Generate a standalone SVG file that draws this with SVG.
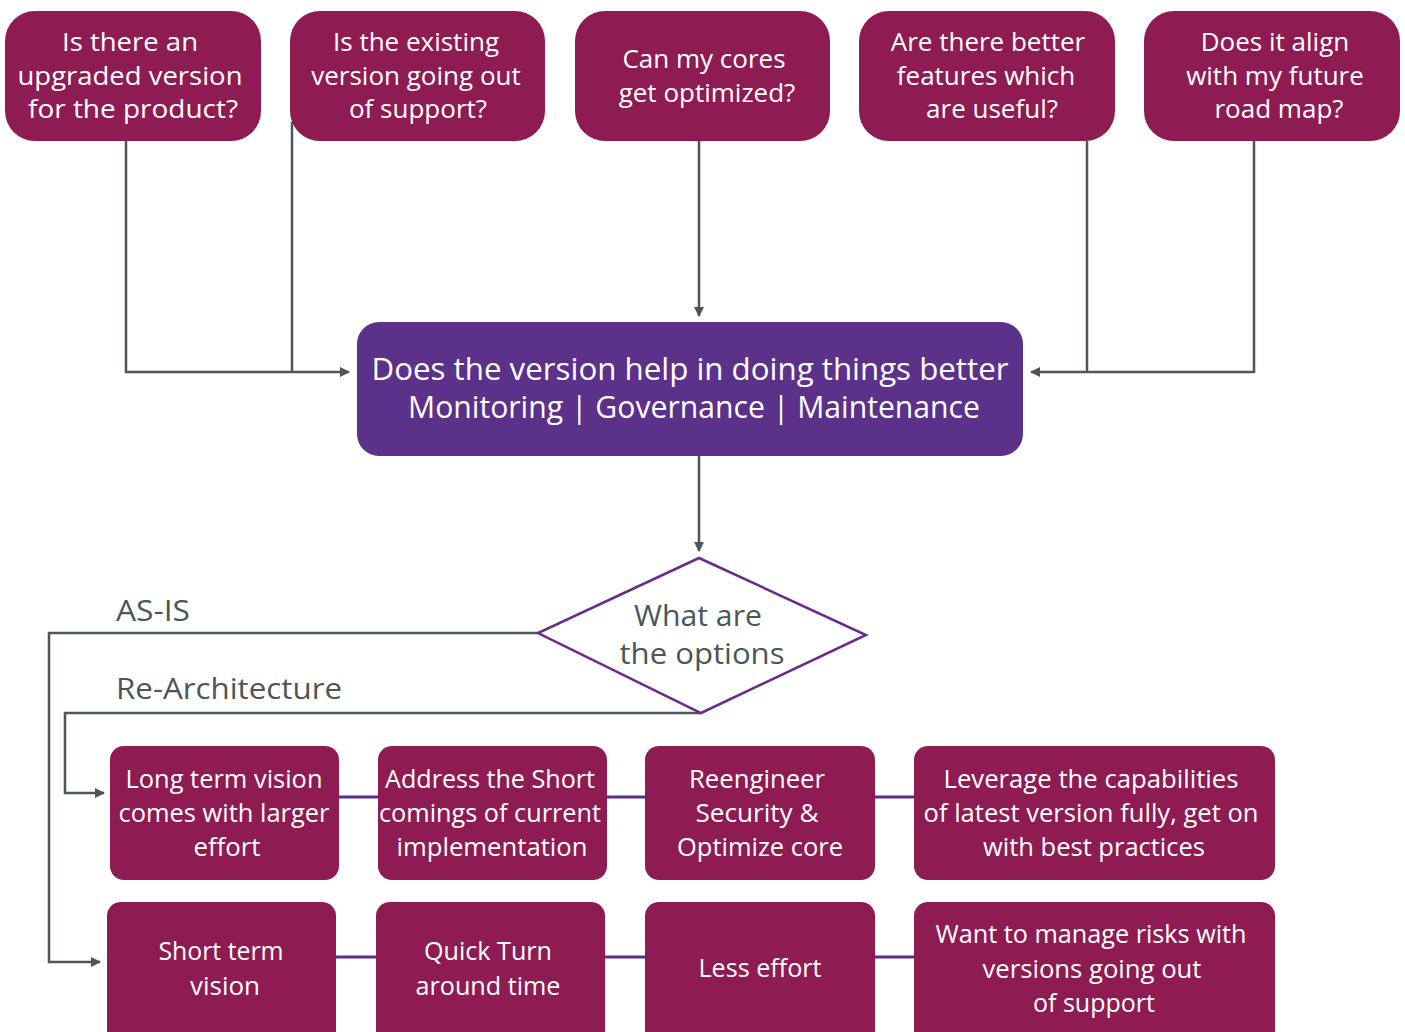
<svg xmlns="http://www.w3.org/2000/svg" width="1405" height="1032" viewBox="0 0 1405 1032">
<defs>
<style>
.q{fill:#8E1C52}
.qt{fill:#fff;font-family:"Open Sans","Noto Sans",sans-serif;font-size:26px;text-anchor:middle}
.bt{fill:#fff;font-family:"Open Sans","Noto Sans",sans-serif;font-size:25px;text-anchor:middle}
.ct{fill:#fff;font-family:"Open Sans","Noto Sans",sans-serif;font-size:31px;text-anchor:middle}
.gt{fill:#4C5655;font-family:"Open Sans","Noto Sans",sans-serif;font-size:30px}
.c{fill:none;stroke:#4C5655;stroke-width:2.5}
.p{fill:none;stroke:#5B2D8C;stroke-width:3}
</style>
<marker id="ah" viewBox="0 0 10 10" refX="9" refY="5" markerWidth="4" markerHeight="4" orient="auto" markerUnits="strokeWidth">
<path d="M0,0 L10,5 L0,10 z" fill="#4C5655"/>
</marker>
</defs>
<rect width="1405" height="1032" fill="#fff"/>

<g id="connectors">
<polyline class="c" points="126,141 126,372 349,372" marker-end="url(#ah)"/>
<polyline class="c" points="292,122 292,372"/>
<polyline class="c" points="699,141 699,316" marker-end="url(#ah)"/>
<polyline class="c" points="1254,141 1254,372 1031,372" marker-end="url(#ah)"/>
<polyline class="c" points="1087,141 1087,372"/>
<polyline class="c" points="699,456 699,551" marker-end="url(#ah)"/>
<polyline class="c" points="540,633 49,633 49,962 100,962" marker-end="url(#ah)"/>
<polyline class="c" points="701,713 65,713 65,793 104,793" marker-end="url(#ah)"/>
<line class="p" x1="339" y1="797" x2="378" y2="797"/>
<line class="p" x1="607" y1="797" x2="645" y2="797"/>
<line class="p" x1="875" y1="797" x2="914" y2="797"/>
<line class="p" x1="336" y1="957" x2="376" y2="957"/>
<line class="p" x1="605" y1="957" x2="645" y2="957"/>
<line class="p" x1="875" y1="957" x2="914" y2="957"/>
</g>

<g id="q1"><rect class="q" x="5" y="11" width="256" height="130" rx="30"/>
<text class="qt" x="130" y="51" textLength="136" lengthAdjust="spacingAndGlyphs">Is there an</text><text class="qt" x="130" y="85" textLength="225" lengthAdjust="spacingAndGlyphs">upgraded version</text><text class="qt" x="133" y="118" textLength="210" lengthAdjust="spacingAndGlyphs">for the product?</text></g>
<g id="q2"><rect class="q" x="290" y="11" width="255" height="130" rx="30"/>
<text class="qt" x="416" y="51">Is the existing</text><text class="qt" x="416" y="85">version going out</text><text class="qt" x="418" y="118">of support?</text></g>
<g id="q3"><rect class="q" x="575" y="11" width="255" height="130" rx="30"/>
<text class="qt" x="704" y="68">Can my cores</text><text class="qt" x="707" y="102">get optimized?</text></g>
<g id="q4"><rect class="q" x="859" y="11" width="256" height="130" rx="30"/>
<text class="qt" x="988" y="51">Are there better</text><text class="qt" x="986" y="85">features which</text><text class="qt" x="992" y="118">are useful?</text></g>
<g id="q5"><rect class="q" x="1144" y="11" width="256" height="130" rx="30"/>
<text class="qt" x="1275" y="51">Does it align</text><text class="qt" x="1275" y="85">with my future</text><text class="qt" x="1279" y="118">road map?</text></g>

<g id="center"><rect x="357" y="322" width="666" height="134" rx="22" fill="#5B318A"/>
<text class="ct" x="690" y="380" textLength="637" lengthAdjust="spacingAndGlyphs">Does the version help in doing things better</text>
<text class="ct" x="694" y="418" textLength="572" lengthAdjust="spacingAndGlyphs">Monitoring | Governance | Maintenance</text></g>

<g id="decision"><polygon points="699,558 866,635 701,713 538,633" fill="#fff" stroke="#6A2A8A" stroke-width="2.5"/>
<text class="gt" x="698" y="626" text-anchor="middle" textLength="128" lengthAdjust="spacingAndGlyphs">What are</text>
<text class="gt" x="702" y="664" text-anchor="middle" textLength="165" lengthAdjust="spacingAndGlyphs">the options</text></g>

<g id="labels">
<text class="gt" x="116" y="621" textLength="74" lengthAdjust="spacingAndGlyphs">AS-IS</text>
<text class="gt" x="116" y="699" textLength="226" lengthAdjust="spacingAndGlyphs">Re-Architecture</text>
</g>

<g id="r1a"><rect class="q" x="110" y="746" width="229" height="134" rx="14"/>
<text class="bt" x="224" y="788" textLength="197" lengthAdjust="spacingAndGlyphs">Long term vision</text>
<text class="bt" x="224" y="822" textLength="211" lengthAdjust="spacingAndGlyphs">comes with larger</text>
<text class="bt" x="227" y="856" textLength="67" lengthAdjust="spacingAndGlyphs">effort</text></g>
<g id="r1b"><rect class="q" x="378" y="746" width="229" height="134" rx="14"/>
<text class="bt" x="490" y="788" textLength="210" lengthAdjust="spacingAndGlyphs">Address the Short</text>
<text class="bt" x="490" y="822" textLength="222" lengthAdjust="spacingAndGlyphs">comings of current</text>
<text class="bt" x="492" y="856" textLength="191" lengthAdjust="spacingAndGlyphs">implementation</text></g>
<g id="r1c"><rect class="q" x="645" y="746" width="230" height="134" rx="14"/>
<text class="bt" x="757" y="788" textLength="136" lengthAdjust="spacingAndGlyphs">Reengineer</text>
<text class="bt" x="757" y="822" textLength="123" lengthAdjust="spacingAndGlyphs">Security &amp;</text>
<text class="bt" x="760" y="856" textLength="166" lengthAdjust="spacingAndGlyphs">Optimize core</text></g>
<g id="r1d"><rect class="q" x="914" y="746" width="361" height="134" rx="14"/>
<text class="bt" x="1091" y="788" textLength="295" lengthAdjust="spacingAndGlyphs">Leverage the capabilities</text>
<text class="bt" x="1091" y="822" textLength="335" lengthAdjust="spacingAndGlyphs">of latest version fully, get on</text>
<text class="bt" x="1094" y="856" textLength="222" lengthAdjust="spacingAndGlyphs">with best practices</text></g>

<g id="r2a"><rect class="q" x="107" y="902" width="229" height="145" rx="14"/>
<text class="bt" x="221" y="960" textLength="125" lengthAdjust="spacingAndGlyphs">Short term</text>
<text class="bt" x="225" y="995" textLength="70" lengthAdjust="spacingAndGlyphs">vision</text></g>
<g id="r2b"><rect class="q" x="376" y="902" width="229" height="145" rx="14"/>
<text class="bt" x="488" y="960" textLength="128" lengthAdjust="spacingAndGlyphs">Quick Turn</text>
<text class="bt" x="488" y="995" textLength="145" lengthAdjust="spacingAndGlyphs">around time</text></g>
<g id="r2c"><rect class="q" x="645" y="902" width="230" height="145" rx="14"/>
<text class="bt" x="760" y="977" textLength="123" lengthAdjust="spacingAndGlyphs">Less effort</text></g>
<g id="r2d"><rect class="q" x="914" y="902" width="361" height="145" rx="14"/>
<text class="bt" x="1091" y="943" textLength="311" lengthAdjust="spacingAndGlyphs">Want to manage risks with</text>
<text class="bt" x="1092" y="978" textLength="219" lengthAdjust="spacingAndGlyphs">versions going out</text>
<text class="bt" x="1094" y="1012" textLength="122" lengthAdjust="spacingAndGlyphs">of support</text></g>
</svg>
